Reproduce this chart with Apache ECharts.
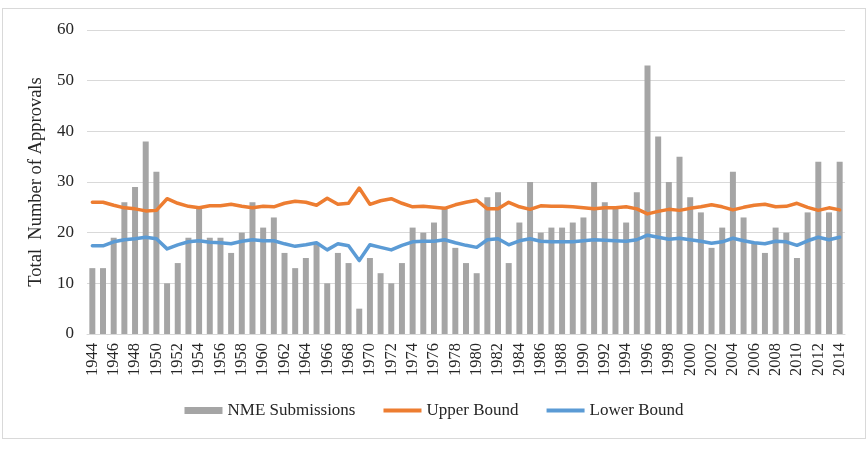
<!DOCTYPE html>
<html>
<head>
<meta charset="utf-8">
<script src="https://cdn.jsdelivr.net/npm/echarts@6/dist/echarts.min.js"></script>
<style>
  body { margin: 0; background: #fff; }
  #chart { position: absolute; left: 2px; top: 8px; width: 862px; height: 429px; border: 1px solid #d9d9d9; }
</style>
</head>
<body>
<div id="chart"></div>
<script>
/* NME approvals, 1944-2014, with control bounds */
var years = [];
for (var y = 1944; y <= 2014; y++) years.push(String(y));

var submissions = [13,13,19,26,29,38,32,10,14,19,25,19,19,16,20,26,21,23,16,13,15,18,10,16,14,5,15,12,10,14,
  21,20,22,25,17,14,12,27,28,14,22,30,20,21,21,22,23,30,26,25,22,28,53,39,30,35,27,24,17,21,32,23,18,16,21,20,15,24,34,24,34];

var upperBound = [26.0,26.0,25.4,24.9,24.7,24.3,24.4,26.7,25.8,25.2,24.9,25.3,25.3,25.6,25.2,24.9,25.2,25.1,25.8,26.2,
  26.0,25.4,26.8,25.6,25.8,28.8,25.6,26.3,26.7,25.8,25.1,25.2,25.0,24.8,25.5,26.0,26.4,24.7,24.7,26.0,
  25.1,24.6,25.3,25.2,25.2,25.1,24.9,24.7,24.9,24.9,25.1,24.7,23.7,24.2,24.6,24.4,24.8,25.1,25.5,25.1,
  24.5,25.0,25.4,25.6,25.1,25.2,25.8,25.0,24.4,24.9,24.5];

var lowerBound = [17.4,17.4,18.2,18.6,18.8,19.1,18.8,16.8,17.6,18.2,18.4,18.1,18.0,17.8,18.3,18.6,18.4,18.4,17.8,17.3,
  17.6,18.0,16.6,17.8,17.4,14.5,17.6,17.1,16.6,17.5,18.2,18.3,18.3,18.6,18.0,17.5,17.1,18.6,18.8,17.6,
  18.4,18.8,18.3,18.2,18.2,18.2,18.4,18.6,18.5,18.4,18.3,18.6,19.5,19.1,18.7,18.9,18.6,18.3,17.9,18.2,
  18.9,18.4,18.0,17.8,18.3,18.2,17.5,18.4,19.1,18.6,19.1];

var font = '"Liberation Serif", "Times New Roman", serif';
// thin strip icon for the line series (tiny slivers keep the box 38x7)
var lineIcon = 'path://M0,0 L38,0 L38,0.01 Z M0,1.5 L38,1.5 L38,5.5 L0,5.5 Z M0,7 L38,7 L38,6.99 Z';

var myChart = echarts.init(document.getElementById('chart'));
var option = {
  animation: false,
  textStyle: { fontFamily: font },
  grid: { left: 84, right: 20, top: 21, bottom: 104 },
  legend: {
    bottom: 14,
    itemWidth: 38,
    itemHeight: 7,
    itemGap: 28,
    textStyle: { fontFamily: font, fontSize: 17, color: '#262626' },
    data: [
      { name: 'NME Submissions', icon: 'rect' },
      { name: 'Upper Bound', icon: lineIcon },
      { name: 'Lower Bound', icon: lineIcon }
    ]
  },
  xAxis: {
    type: 'category',
    data: years,
    axisTick: { show: false },
    axisLine: { lineStyle: { color: '#d9d9d9' } },
    axisLabel: {
      rotate: 90,
      interval: 1,
      margin: 9,
      fontFamily: font,
      fontSize: 16.5,
      color: '#262626'
    }
  },
  yAxis: {
    type: 'value',
    min: 0,
    max: 60,
    interval: 10,
    name: 'Total  Number of Approvals',
    nameLocation: 'middle',
    nameGap: 33,
    nameTextStyle: { fontFamily: font, fontSize: 18.5, color: '#262626' },
    axisLabel: { fontFamily: font, fontSize: 17, color: '#262626', margin: 13 },
    splitLine: { lineStyle: { color: '#d9d9d9' } }
  },
  series: [
    {
      name: 'NME Submissions',
      type: 'bar',
      barCategoryGap: '44%',
      itemStyle: { color: '#a5a5a5' },
      data: submissions
    },
    {
      name: 'Upper Bound',
      type: 'line',
      symbol: 'none',
      itemStyle: { color: '#ed7d31' },
      lineStyle: { color: '#ed7d31', width: 3.5, join: 'round', cap: 'round' },
      data: upperBound
    },
    {
      name: 'Lower Bound',
      type: 'line',
      symbol: 'none',
      itemStyle: { color: '#5b9bd5' },
      lineStyle: { color: '#5b9bd5', width: 3.5, join: 'round', cap: 'round' },
      data: lowerBound
    }
  ]
};
myChart.setOption(option);
</script>
</body>
</html>
